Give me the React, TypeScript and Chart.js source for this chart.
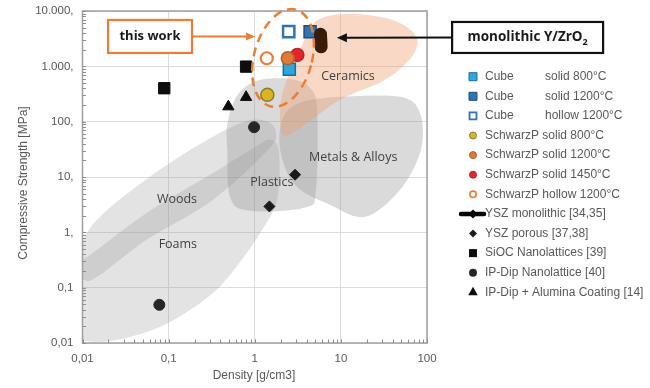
import React, { useEffect, useRef } from 'react';
import { Chart, registerables } from 'chart.js';

Chart.register(...registerables);

type Pt = [number, number];

// ---------- axes ----------
const xMajorTicks = [0.01, 0.1, 1, 10, 100];
const xTickLabels = ['0,01', '0,1', '1', '10', '100'];
const yMajorTicks = [0.01, 0.1, 1, 10, 100, 1000, 10000];
const yTickLabels = ['0,01', '0,1', '1,', '10,', '100,', '1.000,', '10.000,'];
const xTitle = 'Density [g/cm3]';
const yTitle = 'Compressive Strength [MPa]';

// ---------- series: [density g/cm3, compressive strength MPa] ----------
const cubeSolid800: Pt[] = [[2.52, 886]];
const cubeSolid1200: Pt[] = [[4.39, 4235]];
const cubeHollow1200: Pt[] = [[2.48, 4235]];
const schwarzSolid800: Pt[] = [[1.4, 305]];
const schwarzSolid1200: Pt[] = [[2.42, 1400]];
const schwarzSolid1450: Pt[] = [[3.12, 1610]];
const schwarzHollow1200: Pt[] = [[1.38, 1400]];
const yszMonolithic: Pt[] = [[5.8, 3800], [5.9, 2250]];
const yszPorous: Pt[] = [[1.48, 2.94], [2.94, 11.0]];
const siocNanolattices: Pt[] = [[0.089, 402], [0.793, 988]];
const ipDipNanolattice: Pt[] = [[0.982, 79.5], [0.078, 0.049]];
const ipDipAlumina: Pt[] = [[0.494, 187], [0.793, 277]];

// ---------- material family regions (outlines in data space) ----------
const foamsOutline: Pt[] = [[0.0072, 0.26], [0.0122, 0.39], [0.056, 2.26], [0.33, 11.9], [1.01, 35], [1.51, 47], [1.91, 28.5], [1.82, 3.9], [1.22, 1.11], [0.675, 0.29], [0.33, 0.081], [0.104, 0.024], [0.033, 0.0125], [0.0122, 0.0106], [0.0072, 0.0175]];
const woodsOutline: Pt[] = [[0.0089, 0.35], [0.014, 1.55], [0.056, 9.3], [0.28, 47], [0.81, 103], [1.43, 99], [1.77, 63], [1.43, 31], [0.33, 3.9], [0.056, 0.74], [0.016, 0.17], [0.0104, 0.14]];
const plasticsOutline: Pt[] = [[0.48, 88], [0.61, 280], [1.04, 545], [2.57, 590], [4.4, 407], [5.3, 163], [5.15, 5.9], [3.84, 2.8], [0.88, 2.45], [0.52, 4.2], [0.48, 31]];
const metalsOutline: Pt[] = [[2.13, 117], [3.36, 219], [9.8, 281], [48.7, 281], [83, 144], [85, 31], [48.7, 5.9], [19.1, 1.91], [7.5, 3.15], [2.94, 7.2], [1.97, 31]];
const ceramicsOutline: Pt[] = [[2.13, 58], [1.97, 163], [2.25, 461], [3.36, 1980], [5.0, 6330], [11.2, 8830], [37, 7170], [73, 3690], [69, 1610], [32.6, 570], [9.8, 248], [3.36, 77]];

const regionLabels = ['Woods', 'Foams', 'Plastics', 'Metals & Alloys', 'Ceramics'];
const regionLabelAnchors: Pt[] = [[0.125, 3.87], [0.128, 0.6], [1.58, 7.9], [13.9, 22.2], [12.1, 644]];

// ---------- annotations ----------
const thisWorkText = 'this work';
const thisWorkBoxAnchor: Pt = [0.0608, 3465];
const thisWorkArrowTip: Pt = [1.01, 3465];
const thisWorkEllipseCenter: Pt = [2.13, 1418];
const monoText = 'monolithic Y/ZrO';
const monoSub = '2';
const monoBoxAnchor: Pt = [1473, 3324];
const monoArrowTip: Pt = [9.0, 3300];

const ORANGE = '#ed7d31';
const AXIS_FONT = '"Liberation Sans", Arial, sans-serif';
const LABEL_FONT = '"Open Sans", "Noto Sans", sans-serif';

const toXY = (arr: Pt[]) => arr.map(([x, y]) => ({ x, y }));

const labelFor = (v: number, ticks: number[], labels: string[]) => {
  const i = ticks.findIndex((t) => Math.abs(Math.log10(t) - Math.log10(v)) < 1e-6);
  return i >= 0 ? labels[i] : '';
};

function markerPath(ctx: CanvasRenderingContext2D, style: string, x: number, y: number, r: number) {
  ctx.beginPath();
  if (style === 'rect') ctx.rect(x - r, y - r, 2 * r, 2 * r);
  else if (style === 'circle') ctx.arc(x, y, r, 0, Math.PI * 2);
  else if (style === 'rectRot') {
    ctx.moveTo(x, y - r); ctx.lineTo(x + r, y); ctx.lineTo(x, y + r); ctx.lineTo(x - r, y); ctx.closePath();
  } else if (style === 'triangle') {
    ctx.moveTo(x, y - r); ctx.lineTo(x + r * 0.87, y + r * 0.55); ctx.lineTo(x - r * 0.87, y + r * 0.55); ctx.closePath();
  }
}

function smoothClosed(ctx: CanvasRenderingContext2D, pts: number[][]) {
  const n = pts.length;
  ctx.beginPath();
  ctx.moveTo(pts[0][0], pts[0][1]);
  for (let i = 0; i < n; i++) {
    const p0 = pts[(i - 1 + n) % n], p1 = pts[i], p2 = pts[(i + 1) % n], p3 = pts[(i + 2) % n];
    ctx.bezierCurveTo(
      p1[0] + (p2[0] - p0[0]) / 6, p1[1] + (p2[1] - p0[1]) / 6,
      p2[0] - (p3[0] - p1[0]) / 6, p2[1] - (p3[1] - p1[1]) / 6,
      p2[0], p2[1]
    );
  }
  ctx.closePath();
}

function arrow(ctx: CanvasRenderingContext2D, x0: number, y0: number, x1: number, y1: number, color: string, lw: number, head: number) {
  const a = Math.atan2(y1 - y0, x1 - x0);
  const bx = x1 - Math.cos(a) * head, by = y1 - Math.sin(a) * head;
  ctx.save();
  ctx.strokeStyle = color; ctx.fillStyle = color; ctx.lineWidth = lw;
  ctx.beginPath(); ctx.moveTo(x0, y0); ctx.lineTo(bx, by); ctx.stroke();
  ctx.beginPath();
  ctx.moveTo(x1, y1);
  ctx.lineTo(bx + Math.sin(a) * head * 0.45, by - Math.cos(a) * head * 0.45);
  ctx.lineTo(bx - Math.sin(a) * head * 0.45, by + Math.cos(a) * head * 0.45);
  ctx.closePath(); ctx.fill();
  ctx.restore();
}

const ashbyPlugin = {
  id: 'ashby',
  beforeDatasetsDraw(chart: any) {
    const { ctx, chartArea: ca, scales } = chart;
    const sx = scales.x, sy = scales.y;
    const px = (p: Pt) => [sx.getPixelForValue(p[0]), sy.getPixelForValue(p[1])];
    const regions: [Pt[], string][] = [
      [foamsOutline, 'rgba(150,150,150,0.27)'],
      [woodsOutline, 'rgba(150,150,150,0.27)'],
      [plasticsOutline, 'rgba(140,140,140,0.32)'],
      [metalsOutline, 'rgba(150,150,150,0.35)'],
      [ceramicsOutline, 'rgba(240,160,110,0.40)'],
    ];
    ctx.save();
    ctx.beginPath();
    ctx.rect(ca.left, ca.top, ca.right - ca.left, ca.bottom - ca.top);
    ctx.clip();
    regions.forEach(([outline, fill]) => {
      smoothClosed(ctx, outline.map(px));
      ctx.fillStyle = fill;
      ctx.fill();
    });
    ctx.restore();

    ctx.save();
    ctx.fillStyle = '#404040';
    ctx.font = `12.5px ${LABEL_FONT}`;
    ctx.textAlign = 'center';
    ctx.textBaseline = 'middle';
    regionLabels.forEach((t, i) => {
      const [x, y] = px(regionLabelAnchors[i]);
      ctx.fillText(t, x, y);
    });
    ctx.restore();

    // frame and minor ticks
    ctx.save();
    ctx.strokeStyle = '#a0a0a0';
    ctx.lineWidth = 1.5;
    ctx.strokeRect(ca.left, ca.top, ca.right - ca.left, ca.bottom - ca.top);
    ctx.strokeStyle = '#8c8c8c';
    ctx.lineWidth = 1;
    ctx.beginPath();
    for (let d = -2; d < 2; d++) {
      for (let m = 1; m <= 10; m++) {
        const xv = m * Math.pow(10, d);
        const xp = Math.round(sx.getPixelForValue(xv)) + 0.5;
        ctx.moveTo(xp, ca.bottom); ctx.lineTo(xp, ca.bottom - 3.5);
      }
    }
    for (let d = -2; d < 4; d++) {
      for (let m = 1; m <= 10; m++) {
        const yv = m * Math.pow(10, d);
        const yp = Math.round(sy.getPixelForValue(yv)) + 0.5;
        ctx.moveTo(ca.left, yp); ctx.lineTo(ca.left + 3.5, yp);
      }
    }
    ctx.stroke();
    ctx.restore();
  },
  afterDatasetsDraw(chart: any) {
    const { ctx, scales } = chart;
    const sx = scales.x, sy = scales.y;
    const px = (p: Pt) => [sx.getPixelForValue(p[0]), sy.getPixelForValue(p[1])];

    // dashed ellipse around this work
    const [ex, ey] = px(thisWorkEllipseCenter);
    ctx.save();
    ctx.strokeStyle = ORANGE;
    ctx.lineWidth = 2.5;
    ctx.setLineDash([9, 6]);
    ctx.beginPath();
    ctx.ellipse(ex, ey, 29, 50, (15 * Math.PI) / 180, 0, Math.PI * 2);
    ctx.stroke();
    ctx.restore();

    // "this work" box + arrow
    const [bx, by] = px(thisWorkBoxAnchor);
    const bw = 84, bh = 33;
    ctx.save();
    ctx.fillStyle = '#ffffff';
    ctx.fillRect(bx - bw / 2, by - bh / 2, bw, bh);
    ctx.strokeStyle = ORANGE;
    ctx.lineWidth = 2.2;
    ctx.strokeRect(bx - bw / 2, by - bh / 2, bw, bh);
    ctx.fillStyle = '#1a1a1a';
    ctx.font = `bold 13px ${LABEL_FONT}`;
    ctx.textAlign = 'center';
    ctx.textBaseline = 'middle';
    ctx.fillText(thisWorkText, bx, by);
    ctx.restore();
    const [tx, ty] = px(thisWorkArrowTip);
    arrow(ctx, bx + bw / 2 + 1, by, tx, ty, ORANGE, 2, 9);

    // monolithic box + arrow
    const [mx, my] = px(monoBoxAnchor);
    const mw = 151, mh = 31;
    ctx.save();
    ctx.fillStyle = '#ffffff';
    ctx.fillRect(mx - mw / 2, my - mh / 2, mw, mh);
    ctx.strokeStyle = '#111111';
    ctx.lineWidth = 2.2;
    ctx.strokeRect(mx - mw / 2, my - mh / 2, mw, mh);
    ctx.fillStyle = '#1a1a1a';
    ctx.font = `bold 13.5px ${LABEL_FONT}`;
    const w1 = ctx.measureText(monoText).width;
    ctx.font = `bold 9px ${LABEL_FONT}`;
    const w2 = ctx.measureText(monoSub).width;
    const sx0 = mx - (w1 + w2) / 2;
    ctx.textBaseline = 'middle';
    ctx.textAlign = 'left';
    ctx.font = `bold 13.5px ${LABEL_FONT}`;
    ctx.fillText(monoText, sx0, my);
    ctx.font = `bold 9px ${LABEL_FONT}`;
    ctx.fillText(monoSub, sx0 + w1, my + 5);
    ctx.restore();
    const [ax, ay] = px(monoArrowTip);
    arrow(ctx, mx - mw / 2 - 1, my, ax, ay, '#111111', 2, 10);
  },
  afterDraw(chart: any) {
    const { ctx } = chart;
    // axis titles
    ctx.save();
    ctx.fillStyle = '#595959';
    ctx.font = `12px ${AXIS_FONT}`;
    ctx.textAlign = 'center';
    ctx.textBaseline = 'middle';
    ctx.fillText(xTitle, 254, 376);
    ctx.translate(24, 183);
    ctx.rotate(-Math.PI / 2);
    ctx.fillText(yTitle, 0, 0);
    ctx.restore();

    // legend
    const lx = 473, ly0 = 76.7, dy = 19.6;
    chart.data.datasets.forEach((ds: any, i: number) => {
      const y = ly0 + dy * i;
      ctx.save();
      if (ds.legendStyle === 'line') {
        ctx.strokeStyle = '#000';
        ctx.lineWidth = 4.5;
        ctx.lineCap = 'round';
        ctx.beginPath(); ctx.moveTo(461, y); ctx.lineTo(484, y); ctx.stroke();
        markerPath(ctx, 'rectRot', lx, y, 4.5);
        ctx.fillStyle = '#000'; ctx.fill();
      } else {
        markerPath(ctx, ds.pointStyle, lx, y, ds.legendRadius);
        ctx.fillStyle = ds.backgroundColor;
        ctx.fill();
        if (ds.legendBorder > 0) {
          ctx.lineWidth = ds.legendBorder;
          ctx.strokeStyle = ds.borderColor;
          ctx.stroke();
        }
      }
      ctx.fillStyle = '#595959';
      ctx.font = `12px ${AXIS_FONT}`;
      ctx.textAlign = 'left';
      ctx.textBaseline = 'middle';
      const parts = String(ds.label).split('|');
      ctx.fillText(parts[0], 485, y);
      if (parts[1]) ctx.fillText(parts[1], 545, y);
      ctx.restore();
    });
  },
};

function mk(label: string, data: Pt[], style: string, radius: number, bg: string, border: string, bw: number, order: number, legendRadius: number, legendBorder: number) {
  return {
    label,
    data: toXY(data),
    pointStyle: style,
    pointRadius: radius,
    pointHoverRadius: radius,
    backgroundColor: bg,
    borderColor: border,
    pointBackgroundColor: bg,
    pointBorderColor: border,
    pointBorderWidth: bw,
    borderWidth: bw,
    showLine: false,
    order,
    legendRadius,
    legendBorder,
  };
}

export default function App() {
  const ref = useRef<HTMLCanvasElement | null>(null);
  useEffect(() => {
    if (!ref.current) return;
    const datasets: any[] = [
      mk('Cube|solid 800°C', cubeSolid800, 'rect', 8.5, '#2ba8df', '#1f6aa0', 1.5, 2, 4, 1),
      mk('Cube|solid 1200°C', cubeSolid1200, 'rect', 8.5, '#2e75b6', '#1f4e79', 1.5, 2, 4, 1),
      mk('Cube|hollow 1200°C', cubeHollow1200, 'rect', 8.0, '#ffffff', '#2e75b6', 2.5, 2, 3.5, 1.8),
      mk('SchwarzP solid 800°C', schwarzSolid800, 'circle', 6.5, '#dab51c', '#8a7a3c', 1.5, 1, 3.5, 1),
      mk('SchwarzP solid 1200°C', schwarzSolid1200, 'circle', 6.5, '#e07a35', '#b0602c', 1.5, 1, 3.5, 1),
      mk('SchwarzP solid 1450°C', schwarzSolid1450, 'circle', 6.5, '#e8232a', '#b8282d', 1.5, 1, 3.5, 1),
      mk('SchwarzP hollow 1200°C', schwarzHollow1200, 'circle', 6.0, '#ffffff', ORANGE, 2.2, 1, 3.2, 1.6),
      {
        label: 'YSZ monolithic [34,35]',
        data: toXY(yszMonolithic),
        showLine: true,
        borderColor: '#3a1c0b',
        backgroundColor: '#3a1c0b',
        borderWidth: 13,
        borderCapStyle: 'round',
        pointRadius: 0,
        pointHoverRadius: 0,
        order: 0,
        legendStyle: 'line',
      },
      mk('YSZ porous [37,38]', yszPorous, 'rectRot', 5.5, '#1a1a1a', '#1a1a1a', 1, 1, 4, 0),
      mk('SiOC Nanolattices [39]', siocNanolattices, 'rect', 8, '#0d0d0d', '#0d0d0d', 1, 1, 4, 0),
      mk('IP-Dip Nanolattice [40]', ipDipNanolattice, 'circle', 5.5, '#262626', '#262626', 1, 1, 4, 0),
      mk('IP-Dip + Alumina Coating [14]', ipDipAlumina, 'triangle', 6.5, '#0d0d0d', '#0d0d0d', 1, 1, 5.5, 0),
    ];
    const chart = new Chart(ref.current, {
      type: 'scatter',
      data: { datasets },
      options: {
        responsive: false,
        animation: false,
        devicePixelRatio: 1,
        layout: { padding: { top: 11, right: 223, left: 0, bottom: 0 } },
        plugins: { legend: { display: false }, tooltip: { enabled: false } },
        scales: {
          x: {
            type: 'logarithmic',
            position: 'bottom',
            min: 0.01,
            max: 100,
            afterBuildTicks: (s: any) => { s.ticks = xMajorTicks.map((v) => ({ value: v })); },
            afterFit: (s: any) => { s.height = 45; s.paddingLeft = 0; s.paddingRight = 0; },
            ticks: {
              autoSkip: false,
              maxRotation: 0,
              padding: 9,
              color: '#595959',
              font: { family: AXIS_FONT, size: 11.5 },
              callback: (v: any) => labelFor(Number(v), xMajorTicks, xTickLabels),
            },
            grid: { color: '#dcdcdc', drawTicks: false, lineWidth: 1 },
            border: { display: false },
          },
          y: {
            type: 'logarithmic',
            position: 'left',
            min: 0.01,
            max: 10000,
            afterBuildTicks: (s: any) => { s.ticks = yMajorTicks.map((v) => ({ value: v })); },
            afterFit: (s: any) => { s.width = 82.5; s.paddingTop = 0; s.paddingBottom = 0; },
            ticks: {
              autoSkip: false,
              padding: 9,
              color: '#595959',
              font: { family: AXIS_FONT, size: 11.5 },
              callback: (v: any) => labelFor(Number(v), yMajorTicks, yTickLabels),
            },
            grid: { color: '#dcdcdc', drawTicks: false, lineWidth: 1 },
            border: { display: false },
          },
        },
      } as any,
      plugins: [ashbyPlugin],
    });
    return () => chart.destroy();
  }, []);

  return (
    <div style={{ position: 'absolute', left: 0, top: 0, width: 650, height: 388, background: '#ffffff' }}>
      <canvas ref={ref} width={650} height={388} style={{ display: 'block', width: 650, height: 388 }} />
    </div>
  );
}
